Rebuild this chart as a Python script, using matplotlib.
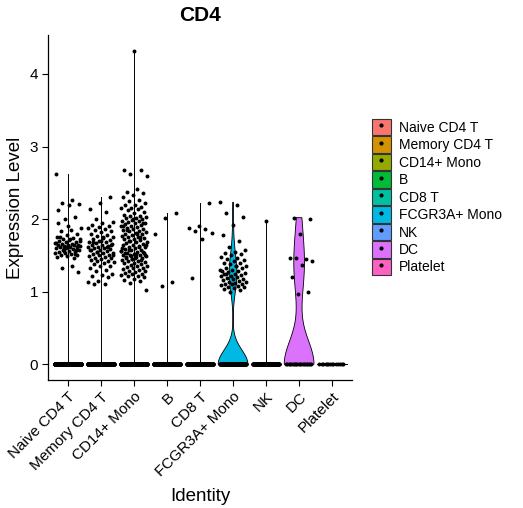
#!/usr/bin/env python3
# Violin plot of CD4 expression per cell identity (Seurat VlnPlot style).

import numpy as np
import matplotlib
matplotlib.use("Agg")
import matplotlib.pyplot as plt
from matplotlib.patches import Patch
from matplotlib.lines import Line2D
from matplotlib.legend_handler import HandlerTuple

plt.rcParams['font.family'] = ['Liberation Sans', 'DejaVu Sans']

identities = ["Naive CD4 T", "Memory CD4 T", "CD14+ Mono", "B", "CD8 T",
              "FCGR3A+ Mono", "NK", "DC", "Platelet"]
colors = ["#F8766D", "#D39200", "#93AA00", "#00BA38", "#00C19F",
          "#00B9E3", "#619CFF", "#DB72FB", "#FF61C3"]

# number of cells with zero expression in each identity
zero_counts = [629, 407, 455, 339, 263, 150, 154, 21, 14]

# non-zero expression values
naive_cd4 = [2.62, 2.27, 2.22, 2.21, 2.2, 2.12, 2.03, 2.0, 1.88, 1.85, 1.83, 1.8,
             1.78, 1.76, 1.74, 1.73, 1.72, 1.71, 1.7, 1.69, 1.68, 1.67, 1.66, 1.66,
             1.65, 1.65, 1.64, 1.64, 1.63, 1.63, 1.62, 1.62, 1.61, 1.6, 1.6, 1.59,
             1.58, 1.57, 1.56, 1.55, 1.55, 1.54, 1.53, 1.52, 1.51, 1.5, 1.49, 1.48,
             1.47, 1.6, 1.7, 1.72, 1.75, 1.58, 1.62, 1.67, 1.35, 1.33, 1.27, 1.9,
             1.95, 1.52, 1.56]
memory_cd4 = [2.3, 2.22, 2.14, 2.1, 2.0, 1.96, 1.94, 1.92, 1.9, 1.89, 1.88, 1.86,
              1.85, 1.84, 1.82, 1.8, 1.78, 1.77, 1.75, 1.74, 1.72, 1.71, 1.7, 1.69,
              1.68, 1.67, 1.66, 1.65, 1.64, 1.63, 1.62, 1.61, 1.6, 1.6, 1.59, 1.58,
              1.57, 1.56, 1.55, 1.54, 1.53, 1.52, 1.51, 1.5, 1.49, 1.48, 1.47, 1.46,
              1.45, 1.44, 1.43, 1.42, 1.41, 1.4, 1.38, 1.36, 1.35, 1.33, 1.3, 1.28,
              1.25, 1.23, 1.22, 1.2, 1.15, 1.13, 1.11, 1.1, 1.65, 1.7, 1.58, 1.62,
              1.55, 1.5, 1.75, 1.68]
cd14_mono = [4.32, 2.68, 2.67, 2.62, 2.6, 2.42, 2.38, 2.36, 2.33, 2.3, 2.27, 2.25,
             2.22, 2.2, 2.19, 2.17, 2.16, 2.15, 2.14, 2.12, 2.1, 2.08, 2.06, 2.05,
             2.04, 2.03, 2.02, 2.01, 2.0, 1.99, 1.98, 1.97, 1.96, 1.95, 1.94, 1.93,
             1.92, 1.91, 1.9, 1.89, 1.88, 1.87, 1.86, 1.85, 1.84, 1.83, 1.82, 1.81,
             1.8, 1.79, 1.78, 1.77, 1.76, 1.75, 1.74, 1.73, 1.72, 1.71, 1.7, 1.69,
             1.68, 1.67, 1.66, 1.65, 1.64, 1.63, 1.62, 1.61, 1.6, 1.59, 1.58, 1.57,
             1.56, 1.55, 1.54, 1.53, 1.52, 1.51, 1.5, 1.5, 1.49, 1.48, 1.47, 1.46,
             1.45, 1.44, 1.43, 1.42, 1.41, 1.4, 1.39, 1.38, 1.37, 1.36, 1.35, 1.34,
             1.33, 1.32, 1.31, 1.3, 1.29, 1.28, 1.27, 1.26, 1.25, 1.24, 1.23, 1.22,
             1.21, 1.2, 1.18, 1.16, 1.15, 1.12, 1.02, 1.52, 1.48, 1.55, 1.45, 1.6,
             1.62, 1.58, 1.5, 1.47, 1.53, 1.44, 1.49, 1.56, 1.8, 1.85, 1.95, 2.0,
             1.9, 1.75, 1.7, 1.65]
b_cells = [2.08, 2.01, 1.79, 1.13, 1.08]
cd8_t = [2.22, 1.9, 1.88, 1.86, 1.84, 1.81, 1.72, 1.19]
fcgr3a_mono = [2.23, 2.2, 2.08, 2.03, 1.92, 1.78, 1.7, 1.62, 1.58, 1.55, 1.53, 1.52,
               1.5, 1.48, 1.47, 1.45, 1.44, 1.42, 1.4, 1.39, 1.38, 1.36, 1.35, 1.33,
               1.32, 1.3, 1.29, 1.28, 1.27, 1.26, 1.25, 1.24, 1.23, 1.22, 1.21, 1.2,
               1.19, 1.18, 1.17, 1.16, 1.15, 1.14, 1.13, 1.12, 1.11, 1.1, 1.1, 1.09,
               1.08, 1.07, 1.06, 1.05, 1.04, 1.02, 1.0, 1.3, 1.35, 1.25]
nk_cells = [1.98]
dc_cells = [2.02, 2.0, 1.8, 1.47, 1.45, 1.46, 1.42, 1.37, 1.2, 1.0, 0.97]
platelet = []

nonzero = [naive_cd4, memory_cd4, cd14_mono, b_cells, cd8_t,
           fcgr3a_mono, nk_cells, dc_cells, platelet]


def bw_nrd0(x):
    hi = np.std(x, ddof=1)
    q75, q25 = np.percentile(x, [75, 25])
    lo = min(hi, (q75 - q25) / 1.34)
    return 0.9 * lo * len(x) ** -0.2


fig = plt.figure(figsize=(5.23, 5.08), dpi=100)
ax = fig.add_axes([0.0918, 0.252, 0.5812, 0.679])

for i, name in enumerate(identities):
    pos = i + 1
    vals = np.concatenate([np.zeros(zero_counts[i]), np.array(nonzero[i], dtype=float)])
    q75, q25 = np.percentile(vals, [75, 25])
    if q75 - q25 > 0:
        # proper kernel density, trimmed to data range, scaled to width 0.9
        bw = bw_nrd0(vals)
        grid = np.linspace(vals.min(), vals.max(), 512)
        dens = np.exp(-0.5 * ((grid[:, None] - vals[None, :]) / bw) ** 2).sum(axis=1)
        half = 0.45 * dens / dens.max()
        xs = np.concatenate([pos - half, (pos + half)[::-1]])
        ys = np.concatenate([grid, grid[::-1]])
        ax.fill(xs, ys, facecolor=colors[i], edgecolor="black", lw=0.6, zorder=2)
    else:
        # mostly zeros: the violin collapses to a spike at 0 and a thin line
        ax.plot([pos - 0.45, pos + 0.45], [0, 0], color="black", lw=0.7, zorder=2)
        if vals.max() > 0:
            ax.plot([pos, pos], [0, vals.max()], color="black", lw=0.7, zorder=2)

    # jittered points (deterministic low-discrepancy offsets, width 0.4)
    n = len(vals)
    offs = ((np.arange(n) * 0.6180339887 + 0.31) % 1.0 - 0.5) * 0.8
    ax.scatter(pos + offs, vals, s=8, color="black", lw=0, zorder=3)

ax.set_xlim(0.4, len(identities) + 0.6)
ax.set_ylim(-0.216, 4.536)
ax.set_yticks([0, 1, 2, 3, 4])
ax.set_xticks(np.arange(1, len(identities) + 1))
ax.set_xticklabels(identities, rotation=45, ha="right", va="top",
                   rotation_mode="anchor", fontsize=11)
ax.tick_params(axis="both", length=4, width=0.8, colors="black", labelsize=11, pad=3)
for side in ["top", "right"]:
    ax.spines[side].set_visible(False)
for side in ["left", "bottom"]:
    ax.spines[side].set_linewidth(0.9)

fig.text(0.3824, 0.97, "CD4", ha="center", va="center", fontsize=15, fontweight="bold")
fig.text(0.029, 0.5915, "Expression Level", rotation=90, ha="center", va="center",
         fontsize=13.5)
fig.text(0.3824, 0.022, "Identity", ha="center", va="center", fontsize=13.5)

handles = [(Patch(facecolor=c, edgecolor="#333333", lw=0.8),
            Line2D([], [], marker="o", color="black", ms=2, ls=""))
           for c in colors]
fig.legend(handles, identities,
           handler_map={tuple: HandlerTuple(ndivide=1, pad=0)},
           loc="upper left", bbox_to_anchor=(0.711, 0.766), frameon=False,
           fontsize=10, handlelength=1.35, handleheight=1.45, labelspacing=0.07,
           handletextpad=0.6, borderpad=0, borderaxespad=0)

fig.savefig("out.png", dpi=100)
